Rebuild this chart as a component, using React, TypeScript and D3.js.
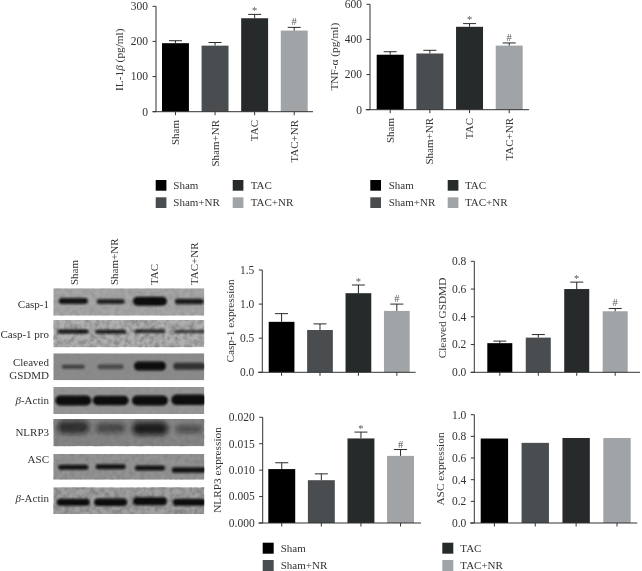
import React from "react";
import * as d3 from "d3";

const categories = ["Sham", "Sham+NR", "TAC", "TAC+NR"];
const colors = ["#000000", "#4a4d50", "#28292b", "#a1a4a6"];

const il1Values = [195, 188, 266, 231];
const il1Errors = [202, 197, 277, 240];
const il1Ticks = [0, 100, 200, 300];
const il1Labels = ["0", "100", "200", "300"];

const tnfValues = [313, 320, 472, 365];
const tnfErrors = [330, 338, 490, 380];
const tnfTicks = [0, 200, 400, 600];
const tnfLabels = ["0", "200", "400", "600"];

const caspValues = [0.74, 0.62, 1.16, 0.9];
const caspErrors = [0.86, 0.71, 1.28, 1.0];
const caspTicks = [0, 0.5, 1, 1.5];
const caspLabels = ["0.0", "0.5", "1.0", "1.5"];

const gsdmdValues = [0.21, 0.25, 0.6, 0.44];
const gsdmdErrors = [0.225, 0.272, 0.65, 0.46];
const gsdmdTicks = [0, 0.2, 0.4, 0.6, 0.8];
const gsdmdLabels = ["0.0", "0.2", "0.4", "0.6", "0.8"];

const nlrpValues = [0.0102, 0.0081, 0.016, 0.0127];
const nlrpErrors = [0.0114, 0.0093, 0.0172, 0.0139];
const nlrpTicks = [0, 0.005, 0.01, 0.015, 0.02];
const nlrpLabels = ["0.000", "0.005", "0.010", "0.015", "0.020"];

const ascValues = [0.78, 0.74, 0.785, 0.785];
const ascTicks = [0, 0.2, 0.4, 0.6, 0.8, 1];
const ascLabels = ["0.0", "0.2", "0.4", "0.6", "0.8", "1.0"];

// Blot band strength per lane
const blotCasp1 = [0.95, 0.85, 1, 0.9];
const blotCaspPro = [0.95, 0.9, 0.85, 0.75];
const blotCleaved = [0.6, 0.5, 1, 0.7];
const blotActin1 = [1, 1, 1, 1];
const blotNlrp = [0.7, 0.5, 0.85, 0.5];
const blotAsc = [0.95, 0.95, 0.95, 0.95];
const blotActin2 = [1, 1, 1, 1];

const FONT = "'Liberation Serif', 'Times New Roman', serif";
const TEXT = "#333333";
const AXIS = "#333333";

type ChartCfg = {
  values: number[]; errors?: number[]; ticks: number[]; labels: string[];
  max: number; axisX: number; top: number; bottom: number;
  bar0: number; bar1: number; pad: number; xStart: number; xEnd: number;
  title: React.ReactNode; titleX: number; titleY: number;
  catLabelY?: number; marks?: boolean;
};

function BarChart({ c }: { c: ChartCfg }) {
  const y = d3.scaleLinear().domain([0, c.max]).range([c.bottom, c.top]);
  const x = d3.scaleBand<string>().domain(categories).range([c.bar0, c.bar1]).paddingInner(c.pad).paddingOuter(0);
  const w = x.bandwidth();
  const symbols = ["", "", "*", "#"];
  return (
    <g fontFamily={FONT} fill={TEXT}>
      {categories.map((k, i) => (
        <rect key={k} x={x(k)} width={w} y={y(c.values[i])} height={c.bottom - y(c.values[i])} fill={colors[i]} />
      ))}
      {c.errors && categories.map((k, i) => {
        const cx = x(k)! + w / 2;
        const top = y(c.errors![i]);
        return (
          <g key={k}>
            <line x1={cx} x2={cx} y1={y(c.values[i])} y2={top} stroke="#2a2a2a" strokeWidth={1} />
            <line x1={cx - 6.5} x2={cx + 6.5} y1={top} y2={top} stroke="#2a2a2a" strokeWidth={1} />
            {symbols[i] && (
              <text x={cx} y={top - (i === 2 ? 0.5 : 2)} textAnchor="middle" fontSize={10.5} fill="#555">{symbols[i]}</text>
            )}
          </g>
        );
      })}
      <line x1={c.axisX} x2={c.axisX} y1={c.top} y2={c.bottom} stroke={AXIS} strokeWidth={1} />
      <line x1={c.xStart} x2={c.xEnd} y1={c.bottom} y2={c.bottom} stroke={AXIS} strokeWidth={1} />
      {c.ticks.map((t, i) => (
        <g key={t}>
          <line x1={c.axisX - 3.5} x2={c.axisX} y1={y(t)} y2={y(t)} stroke={AXIS} strokeWidth={1} />
          <text x={c.axisX - 8} y={y(t)} dy="0.34em" textAnchor="end" fontSize={11.5}>{c.labels[i]}</text>
        </g>
      ))}
      {categories.map((k) => {
        const cx = x(k)! + w / 2;
        return (
          <g key={k}>
            <line x1={cx} x2={cx} y1={c.bottom} y2={c.bottom + 3.5} stroke={AXIS} strokeWidth={1} />
            {c.catLabelY !== undefined && (
              <text transform={`translate(${cx + 3.5},${c.catLabelY}) rotate(-90)`} textAnchor="end" fontSize={11}>{k}</text>
            )}
          </g>
        );
      })}
      <text transform={`translate(${c.titleX},${c.titleY}) rotate(-90)`} textAnchor="middle" fontSize={11.3}>{c.title}</text>
    </g>
  );
}

function Legend({ x1, x2, text1, text2, y1, y2, size }: { x1: number; x2: number; text1: number; text2: number; y1: number; y2: number; size: number }) {
  const pos = [[x1, text1, y1], [x1, text1, y2], [x2, text2, y1], [x2, text2, y2]];
  return (
    <g fontFamily={FONT} fill={TEXT} fontSize={11}>
      {categories.map((k, i) => (
        <g key={k}>
          <rect x={pos[i][0]} y={pos[i][2]} width={size} height={size} fill={colors[i]} />
          <text x={pos[i][1]} y={pos[i][2] + size / 2} dy="0.34em">{k}</text>
        </g>
      ))}
    </g>
  );
}

type Blot = {
  top: number; bottom: number; bg: string; strength: number[]; thick: number[]; width: number[];
  yFrac: number[]; blur: string; noise: number;
};
const blots: Blot[] = [
  { top: 288.3, bottom: 315.7, bg: "#a6a6a6", strength: blotCasp1, thick: [6, 5, 9, 5.5], width: [29, 28, 34, 29], yFrac: [0.46, 0.48, 0.47, 0.48], blur: "b1", noise: 0.3 },
  { top: 320, bottom: 347.3, bg: "#b0b0b0", strength: blotCaspPro, thick: [4, 4, 3.5, 3], width: [31, 31, 31, 31], yFrac: [0.42, 0.43, 0.41, 0.42], blur: "b1", noise: 0.7 },
  { top: 353.3, bottom: 380.3, bg: "#8b8b8b", strength: blotCleaved, thick: [4, 5, 9, 7], width: [23, 26, 32, 32], yFrac: [0.5, 0.5, 0.47, 0.48], blur: "b1", noise: 0.15 },
  { top: 387, bottom: 414, bg: "#969696", strength: blotActin1, thick: [10, 9.5, 10, 10.5], width: [36, 36, 36, 36], yFrac: [0.5, 0.5, 0.5, 0.47], blur: "b1", noise: 0.2 },
  { top: 419, bottom: 446.3, bg: "#858585", strength: blotNlrp, thick: [13, 10, 13, 7], width: [32, 30, 36, 26], yFrac: [0.3, 0.33, 0.35, 0.37], blur: "b2", noise: 1 },
  { top: 454, bottom: 479.7, bg: "#939393", strength: blotAsc, thick: [5, 5, 5, 5.5], width: [30, 30, 30, 35], yFrac: [0.52, 0.5, 0.54, 0.62], blur: "b1", noise: 0.5 },
  { top: 487.3, bottom: 514, bg: "#a0a0a0", strength: blotActin2, thick: [7, 7.5, 8, 7], width: [33, 33, 34, 33], yFrac: [0.56, 0.56, 0.52, 0.56], blur: "b1", noise: 0.8 },
];

const blotLabels: [React.ReactNode, number][] = [
  ["Casp-1", 304],
  ["Casp-1 pro", 334],
  ["Cleaved", 362],
  ["GSDMD", 375.5],
  [<><tspan fontStyle="italic">β</tspan>-Actin</>, 400.7],
  ["NLRP3", 432],
  ["ASC", 459],
  [<><tspan fontStyle="italic">β</tspan>-Actin</>, 498],
];

function Blots() {
  const left = 53.3, right = 204.3;
  const lanes = d3.scalePoint<string>().domain(categories).range([left + 18, left + 136]);
  const cols = d3.scalePoint<string>().domain(categories).range([74, 194]);
  return (
    <g fontFamily={FONT} fill={TEXT} fontSize={11}>
      {blots.map((b, i) => (
        <g key={i}>
          <clipPath id={`clip${i}`}>
            <rect x={left} y={b.top} width={right - left} height={b.bottom - b.top} />
          </clipPath>
          <g clipPath={`url(#clip${i})`}>
            <rect x={left} y={b.top} width={right - left} height={b.bottom - b.top} fill={b.bg} />
            <rect x={left} y={b.top} width={right - left} height={b.bottom - b.top} filter="url(#noise)" opacity={b.noise} />
            {categories.map((k, j) => {
              const cy = b.top + (b.bottom - b.top) * b.yFrac[j];
              return (
                <rect key={k} x={lanes(k)! - b.width[j] / 2 + (j === 0 ? 2 : 0)} width={b.width[j]}
                  y={cy - b.thick[j] / 2} height={b.thick[j]} rx={b.thick[j] / 2}
                  fill="#0a0a0a" opacity={b.strength[j]} filter={`url(#${b.blur})`} />
              );
            })}
          </g>
        </g>
      ))}
      {blotLabels.map(([t, y], i) => (
        <text key={i} x={49} y={y} dy="0.34em" textAnchor="end">{t}</text>
      ))}
      {categories.map((k) => (
        <text key={k} transform={`translate(${cols(k)! + 3.5},285) rotate(-90)`}>{k}</text>
      ))}
    </g>
  );
}

const il1: ChartCfg = {
  values: il1Values, errors: il1Errors, ticks: il1Ticks, labels: il1Labels, max: 300,
  axisX: 156, top: 6.3, bottom: 111.7, bar0: 162, bar1: 307.7, pad: 0.32, xStart: 152.7, xEnd: 313,
  title: <>IL-1<tspan fontStyle="italic">β</tspan> (pg/ml)</>, titleX: 122.5, titleY: 59.7, catLabelY: 120,
};
const tnf: ChartCfg = {
  values: tnfValues, errors: tnfErrors, ticks: tnfTicks, labels: tnfLabels, max: 600,
  axisX: 370, top: 4.3, bottom: 109.7, bar0: 376.7, bar1: 522.7, pad: 0.32, xStart: 365.7, xEnd: 529,
  title: "TNF-α (pg/ml)", titleX: 337.5, titleY: 56.7, catLabelY: 118,
};
const casp: ChartCfg = {
  values: caspValues, errors: caspErrors, ticks: caspTicks, labels: caspLabels, max: 1.5,
  axisX: 262.3, top: 270, bottom: 372.3, bar0: 268.7, bar1: 409.7, pad: 0.33, xStart: 258, xEnd: 415.7,
  title: "Casp-1 expression", titleX: 233.5, titleY: 321,
};
const gsdmd: ChartCfg = {
  values: gsdmdValues, errors: gsdmdErrors, ticks: gsdmdTicks, labels: gsdmdLabels, max: 0.8,
  axisX: 474.3, top: 261.3, bottom: 372.3, bar0: 487.3, bar1: 627.7, pad: 0.35, xStart: 470.7, xEnd: 640,
  title: "Cleaved GSDMD", titleX: 445.8, titleY: 318,
};
const nlrp: ChartCfg = {
  values: nlrpValues, errors: nlrpErrors, ticks: nlrpTicks, labels: nlrpLabels, max: 0.02,
  axisX: 262.7, top: 417.3, bottom: 523, bar0: 268.3, bar1: 414, pad: 0.32, xStart: 258.3, xEnd: 421,
  title: "NLRP3 expression", titleX: 220.5, titleY: 470,
};
const asc: ChartCfg = {
  values: ascValues, ticks: ascTicks, labels: ascLabels, max: 1,
  axisX: 474.3, top: 414.7, bottom: 523, bar0: 480.7, bar1: 630.7, pad: 0.33, xStart: 470, xEnd: 637.3,
  title: "ASC expression", titleX: 443.5, titleY: 469,
};

export default function App() {
  return (
    <svg width={642} height={571} viewBox="0 0 642 571" style={{ position: "absolute", left: 0, top: 0, background: "#fff" }}>
      <defs>
        <filter id="soft" x="0" y="0" width="100%" height="100%"><feGaussianBlur stdDeviation="0.35" /></filter>
        <filter id="b1" x="-20%" y="-100%" width="140%" height="300%"><feGaussianBlur stdDeviation="1" /></filter>
        <filter id="b2" x="-30%" y="-100%" width="160%" height="300%"><feGaussianBlur stdDeviation="2.6" /></filter>
        <filter id="noise" x="0" y="0" width="100%" height="100%">
          <feTurbulence type="fractalNoise" baseFrequency="0.2" numOctaves={2} seed={4} />
          <feColorMatrix type="matrix" values="0 0 0 0 0.2  0 0 0 0 0.2  0 0 0 0 0.2  2.4 0 0 0 -0.85" />
        </filter>
      </defs>
      <g filter="url(#soft)">
        <BarChart c={il1} />
        <BarChart c={tnf} />
        <Legend x1={155.7} x2={232.7} text1={173.3} text2={250.7} y1={180} y2={197.3} size={10.7} />
        <Legend x1={370.3} x2={447.7} text1={388.7} text2={465} y1={180} y2={197.3} size={10.7} />
        <Blots />
        <BarChart c={casp} />
        <BarChart c={gsdmd} />
        <BarChart c={nlrp} />
        <BarChart c={asc} />
        <Legend x1={262.7} x2={442.3} text1={280.7} text2={460.3} y1={542.7} y2={560} size={11} />
      </g>
    </svg>
  );
}
